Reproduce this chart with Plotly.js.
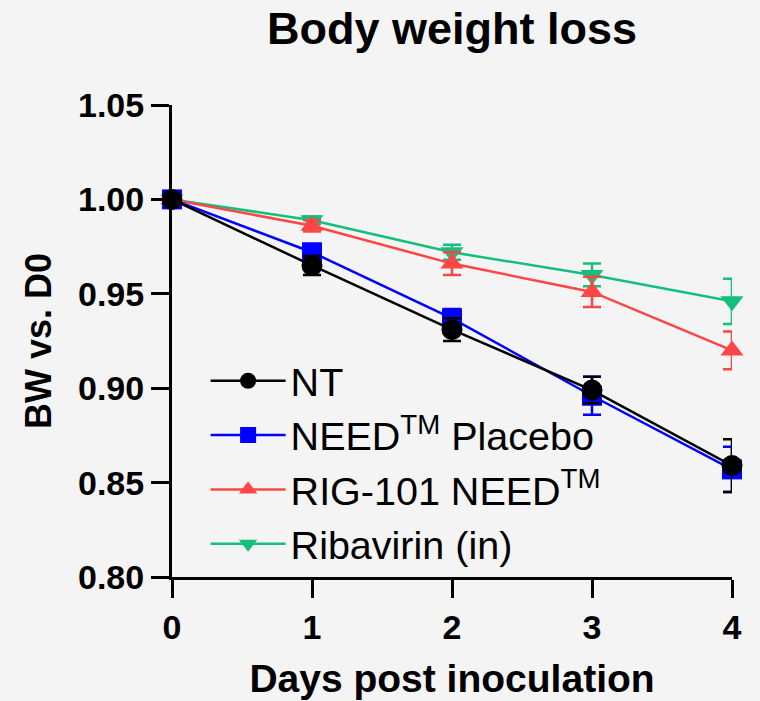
<!DOCTYPE html>
<html>
<head>
<meta charset="utf-8">
<script src="https://cdn.plot.ly/plotly-3.0.1.min.js"></script>
<style>html,body{margin:0;padding:0;background:#F4F4F4;}</style>
</head>
<body>
<div id="chart" style="width:760px;height:701px;"></div>
<script>
// ---- data ----
const days = [0, 1, 2, 3, 4];
const seriesNames = ["NT", "NEED<sup>TM</sup> Placebo", "RIG-101 NEED<sup>TM</sup>", "Ribavirin (in)"];
const ntMean = [1.000, 0.965, 0.931, 0.899, 0.859];
const ntErr = [0, 0.005, 0.006, 0.007, 0.014];
const placeboMean = [1.000, 0.972, 0.937, 0.896, 0.857];
const placeboErr = [0, 0.003, 0.005, 0.010, 0.012];
const rigMean = [1.000, 0.986, 0.966, 0.951, 0.920];
const rigErr = [0, 0.003, 0.006, 0.008, 0.010];
const ribaMean = [1.000, 0.989, 0.972, 0.960, 0.946];
const ribaErr = [0, 0.002, 0.004, 0.006, 0.012];
const yTicks = [0.80, 0.85, 0.90, 0.95, 1.00, 1.05];
const yTickText = ["0.80", "0.85", "0.90", "0.95", "1.00", "1.05"];
const xTicks = [0, 1, 2, 3, 4];

const FONT = '"Liberation Sans", Arial, Helvetica, sans-serif';

function mk(name, y, err, color, symbol, size) {
  return {
    x: days, y: y, name: name, type: 'scatter', mode: 'lines+markers',
    line: {color: color, width: 2.5},
    marker: {color: color, symbol: symbol, size: size},
    error_y: {type: 'data', array: err, visible: true, color: color, thickness: 2.5, width: 9},
    cliponaxis: false
  };
}

const traces = [
  mk(seriesNames[3], ribaMean, ribaErr, '#12BF7B', 'triangle-down', 20),
  mk(seriesNames[2], rigMean, rigErr, '#FF4545', 'triangle-up', 20),
  mk(seriesNames[1], placeboMean, placeboErr, '#0000FF', 'square', 20),
  mk(seriesNames[0], ntMean, ntErr, '#000000', 'circle', 21)
];

const layout = {
  width: 760, height: 701,
  paper_bgcolor: '#F4F4F4', plot_bgcolor: '#F4F4F4',
  margin: {l: 172, r: 28, t: 105, b: 124},
  font: {family: FONT, color: '#000'},
  title: {text: 'Body weight loss', font: {family: FONT, size: 45, weight: 'bold', color: '#000'},
          x: 0.5, xref: 'paper', xanchor: 'center', y: 0.96, yref: 'container', yanchor: 'middle'},
  showlegend: true,
  legend: {x: 0.06, y: 0.484, xanchor: 'left', yanchor: 'top', traceorder: 'reversed', tracegroupgap: 0,
           bgcolor: 'rgba(0,0,0,0)', font: {family: FONT, size: 39.5, color: '#000'}, itemwidth: 75},
  xaxis: {
    range: [0, 4], tickvals: xTicks, ticks: 'outside', ticklen: 18, tickwidth: 3, tickcolor: '#000',
    showline: true, linewidth: 3, linecolor: '#000', showgrid: false, zeroline: false,
    tickfont: {family: FONT, size: 34, weight: 'bold', color: '#000'},
    title: {text: 'Days post inoculation', standoff: 20, font: {family: FONT, size: 39, weight: 'bold', color: '#000'}}
  },
  yaxis: {
    range: [0.80, 1.05], tickvals: yTicks, ticktext: yTickText, ticks: 'outside', ticklen: 18, tickwidth: 3, tickcolor: '#000',
    showline: true, linewidth: 3, linecolor: '#000', showgrid: false, zeroline: false,
    tickfont: {family: FONT, size: 34, weight: 'bold', color: '#000'},
    title: {text: 'BW vs. D0', standoff: 16, font: {family: FONT, size: 36, weight: 'bold', color: '#000'}}
  }
};

Plotly.newPlot('chart', traces, layout, {displayModeBar: false, staticPlot: true});
</script>
</body>
</html>
